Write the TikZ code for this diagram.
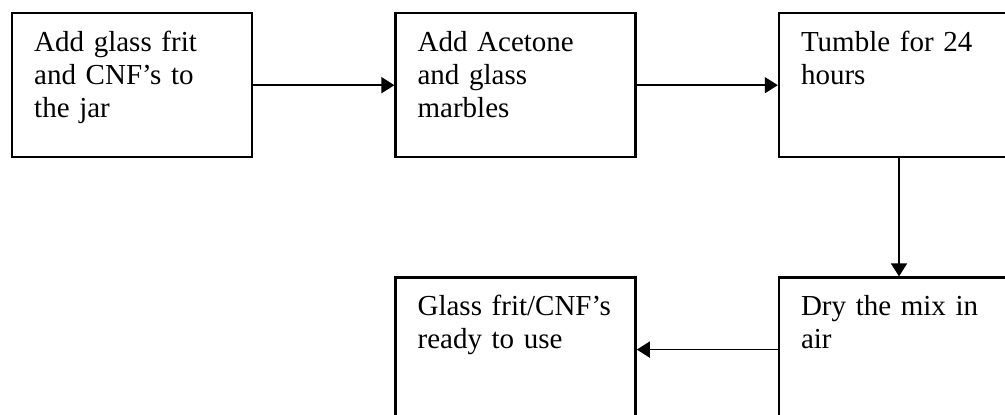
\documentclass[tikz,border=0pt]{standalone}
\usepackage{fontspec}
\setmainfont{Liberation Serif}
\usetikzlibrary{arrows.meta, positioning}

\begin{document}
\begin{tikzpicture}[
    x=0.5pt, y=-0.5pt,
    node distance=59pt and 70.5pt,
    stepbox/.style={draw, line width=1.2pt, rectangle, minimum width=120pt, minimum height=72pt,
        text width=98pt, align=left, inner xsep=11pt, inner ysep=0pt,
        text height=19pt, text depth=53pt, font=\fontsize{14.5pt}{16.6pt}\selectfont},
    arrow/.style={draw, line width=0.85pt, -{Triangle[length=6.5pt, width=8pt]}}
]

\path[use as bounding box, clip] (0,0) rectangle (1005,415);

\node[stepbox, anchor=north west] (add) at (11,12) {Add glass frit\\and CNF’s to\\the jar};
\node[stepbox, right=of add] (acetone) {Add Acetone\\and glass\\marbles};
\node[stepbox, right=of acetone] (tumble) {Tumble for 24\\hours};
\node[stepbox, below=of tumble] (dry) {Dry the mix in\\air};
\node[stepbox, left=of dry] (ready) {Glass frit/CNF’s\\ready to use};

\draw[arrow] (add) -- (acetone);
\draw[arrow] (acetone) -- (tumble);
\draw[arrow] (tumble) -- (dry);
\draw[arrow] (dry) -- (ready);

\end{tikzpicture}
\end{document}
